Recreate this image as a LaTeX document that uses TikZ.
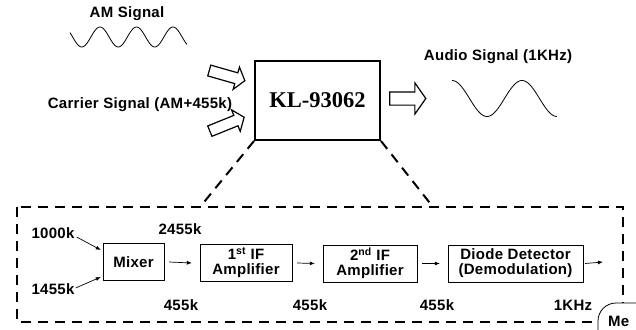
\documentclass[tikz,border=0pt]{standalone}
\usepackage{fontspec}
\setmainfont{Liberation Sans}[LetterSpace=2]
\newfontfamily\klfont{Liberation Serif}
\usetikzlibrary{arrows.meta,shapes.arrows,positioning}

\begin{document}
\begin{tikzpicture}[
  x=1pt, y=-1pt,
  every node/.style={font=\bfseries\fontsize{15}{15}\selectfont, inner sep=0pt},
  block/.style={draw, thin, align=center, minimum height=37pt},
  hollow/.style={single arrow, draw, line width=1.2pt, minimum height=37pt, inner ysep=5pt, single arrow head extend=6pt, single arrow tip angle=105},
  wave/.style={line width=0.8pt, samples=120, smooth},
  link/.style={-{Latex[length=5pt,width=4pt]}, line width=0.7pt},
  zoomline/.style={line width=2pt, dash pattern=on 10pt off 7pt}
]
\useasboundingbox (0,0) rectangle (636,329);
\clip (0,0) rectangle (636,329);

% input / output signals
\node (am) at (127,14) {AM Signal};
\draw[wave] plot[domain=70:187] (\x,{37-10*cos(9.863*(\x-100))});
\node (carrier) at (140,105) {Carrier Signal (AM+455k)};
\node (audio) at (498,57) {Audio Signal (1KHz)};
\draw[wave] plot[domain=452:557] (\x,{98.5-18*cos(5.143*(\x-452))});

% the chip
\node[draw, line width=2pt, minimum width=125pt, minimum height=79pt, font=\klfont\bfseries\fontsize{22.5}{24}\selectfont] (kl) at (317.5,100.5) {KL-93062};
\node[hollow, rotate=-16] (in1) at (225,75) {};
\node[hollow, rotate=22] (in2) at (225,125) {};
\node[hollow, minimum height=36pt, inner ysep=6pt, single arrow head extend=9pt, single arrow tip angle=110] (out) at (405.5,98.5) {};

% zoom onto the inside
\coordinate (zl) at (200,207);
\coordinate (zr) at (433,207);
\draw[zoomline] (kl.south west) -- (zl);
\draw[zoomline] (kl.south east) -- (zr);
\draw[zoomline] (17,207) rectangle (623,322);

% block chain
\node[block, minimum width=61pt] (mix) at (133.5,262) {Mixer};
\node[block, minimum width=92pt] (if1) at (246,263) {1\textsuperscript{st} IF\\Amplifier};
\node[block, minimum width=94pt] (if2) at (370,263.5) {2\textsuperscript{nd} IF\\Amplifier};
\node[block, minimum width=135pt] (det) at (515.5,263.5) {Diode Detector\\(Demodulation)};
\coordinate (aout) at (603,262);

\node (f1) at (53,233) {1000k};
\node (f2) at (53,289) {1455k};
\node at (180,229) {2455k};
\node at (181,305) {455k};
\node at (310,305) {455k};
\node at (437,305) {455k};
\node at (573,305) {1KHz};

\draw[link] ([xshift=2pt,yshift=-4pt]f1.east) -- ([xshift=-2pt,yshift=12pt]mix.west);
\draw[link] ([xshift=1pt,yshift=1pt]f2.east) -- ([xshift=-2pt,yshift=-15pt]mix.west);
\draw[link] ([xshift=5pt]mix.east) -- ([xshift=-8pt]if1.west);
\draw[link] ([xshift=5pt]if1.east) -- ([xshift=-8pt]if2.west);
\draw[link] ([xshift=5pt]if2.east) -- ([xshift=-8pt]det.west);
\draw[link] ([xshift=2pt]det.east) -- (aout);

% cut-off box at the corner
\draw[thick, fill=white, rounded corners=18pt] (598,345) -- (598,303) -- (660,303) -- (660,345);
\node[anchor=west] (me) at (608,321) {Me};
\end{tikzpicture}
\end{document}
